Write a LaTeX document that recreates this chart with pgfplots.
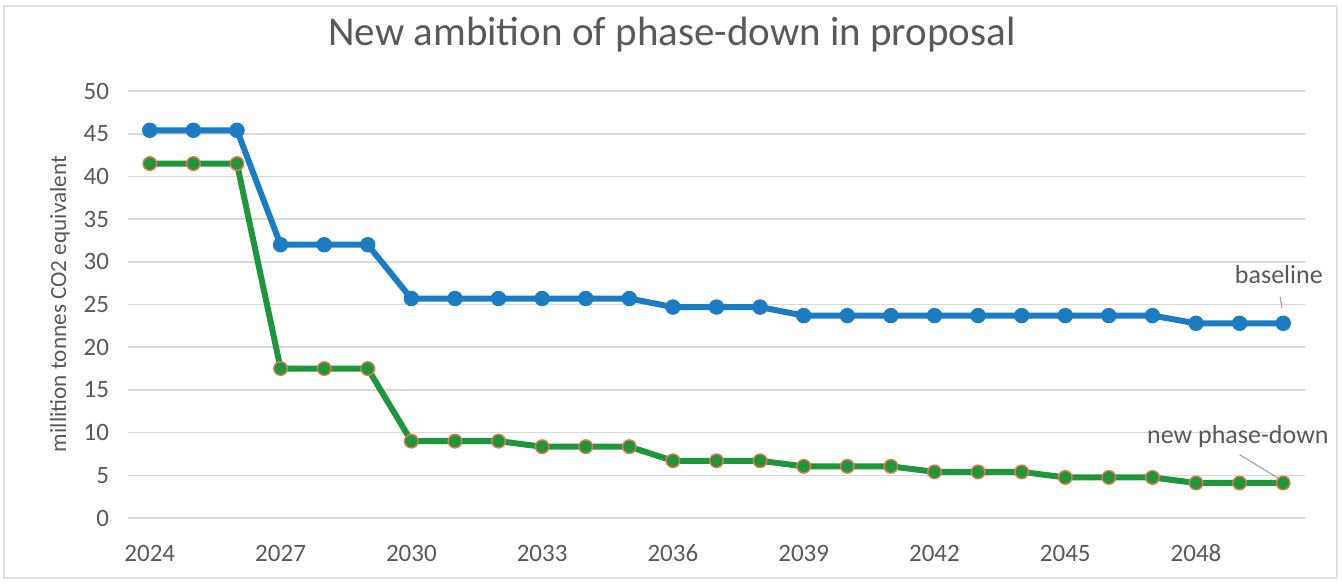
\documentclass[border=0pt]{standalone}
\usepackage{pgfplots}
\pgfplotsset{compat=1.18}
\usepackage{fontspec}
\setmainfont{Carlito}
\definecolor{gridgray}{HTML}{D9D9D9}
\definecolor{txtgray}{HTML}{595959}
\definecolor{bblue}{HTML}{1B7CC3}
\definecolor{ggreen}{HTML}{1E963C}
\definecolor{oedge}{HTML}{E8784A}
\definecolor{framegray}{HTML}{E0E0E0}
\begin{document}
\begin{tikzpicture}
\path[use as bounding box] (-64pt,-32.5pt) rectangle (607pt,259pt);
\draw[framegray, line width=0.6pt] (-62pt,-30pt) rectangle (604.5pt,256pt);
\begin{axis}[
  at={(0,0)}, anchor=south west,
  scale only axis,
  width=588.5pt, height=213.5pt,
  xmin=2023.5, xmax=2050.5,
  ymin=0, ymax=50,
  xtick={2024,2027,2030,2033,2036,2039,2042,2045,2048},
  ytick={0,5,...,50},
  ymajorgrids,
  grid style={gridgray, line width=0.8pt},
  axis line style={draw=none},
  major tick length=0pt,
  /pgf/number format/assume math mode=true,
  /pgf/number format/1000 sep={},
  ticklabel style={font=\fontsize{12.5}{15}\selectfont, text=txtgray},
  xticklabel style={anchor=base, yshift=-21.5pt},
  yticklabel style={anchor=east, xshift=-6pt},
  clip=false,
]
\addplot[bblue, line width=3pt, mark=*, mark size=3.6pt, mark options={fill=bblue, draw=bblue, line width=0.5pt}] coordinates {
(2024,45.4) (2025,45.4) (2026,45.4)
(2027,32.0) (2028,32.0) (2029,32.0)
(2030,25.7) (2031,25.7) (2032,25.7) (2033,25.7) (2034,25.7) (2035,25.7)
(2036,24.7) (2037,24.7) (2038,24.7)
(2039,23.7) (2040,23.7) (2041,23.7) (2042,23.7) (2043,23.7) (2044,23.7) (2045,23.7) (2046,23.7) (2047,23.7)
(2048,22.8) (2049,22.8) (2050,22.8)
};
\addplot[ggreen, line width=3pt, mark=*, mark size=3.4pt, mark options={fill=ggreen, draw=oedge, line width=0.7pt}] coordinates {
(2024,41.5) (2025,41.5) (2026,41.5)
(2027,17.5) (2028,17.5) (2029,17.5)
(2030,9.0) (2031,9.0) (2032,9.0)
(2033,8.35) (2034,8.35) (2035,8.35)
(2036,6.7) (2037,6.7) (2038,6.7)
(2039,6.05) (2040,6.05) (2041,6.05)
(2042,5.4) (2043,5.4) (2044,5.4)
(2045,4.75) (2046,4.75) (2047,4.75)
(2048,4.1) (2049,4.1) (2050,4.1)
};
\draw[gray!70, line width=0.6pt] (axis cs:2049.93,25.9) -- (axis cs:2049.97,24.6);
\draw[gray!70, line width=0.6pt] (axis cs:2049.0,7.4) -- (axis cs:2049.88,4.7);
\node[text=txtgray, font=\fontsize{13}{15}\selectfont] at (axis cs:2049.9,28.45) {baseline};
\node[text=txtgray, font=\fontsize{13}{15}\selectfont] at (axis cs:2048.96,9.5) {new phase-down};
\end{axis}
\node[text=txtgray, font=\fontsize{20.5}{24}\selectfont] at (272pt,241.5pt) {New ambition of phase-down in proposal};
\node[text=txtgray, font=\fontsize{11.6}{13}\selectfont, rotate=90] at (-34pt,107pt) {millition tonnes CO2 equivalent};
\end{tikzpicture}
\end{document}
